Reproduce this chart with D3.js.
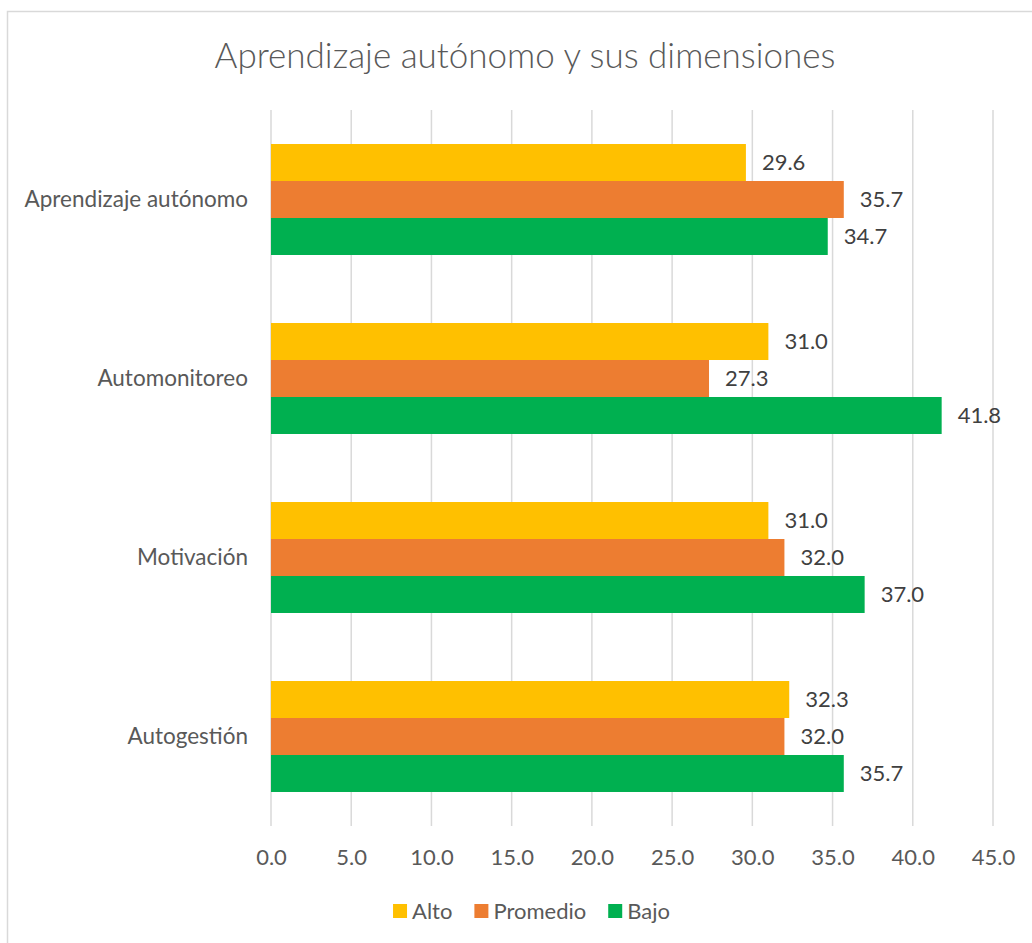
<!DOCTYPE html>
<html>
<head>
<meta charset="utf-8">
<script src="https://cdn.jsdelivr.net/npm/d3@7"></script>
<style>
  html, body { margin: 0; padding: 0; background: #fff; }
  svg { display: block; }
  text { font-family: Lato, "Open Sans", sans-serif; }
</style>
</head>
<body>
<svg id="chart" width="1032" height="943"></svg>
<script>
const title = "Aprendizaje autónomo y sus dimensiones";
const categories = ["Aprendizaje autónomo", "Automonitoreo", "Motivación", "Autogestión"];
const seriesNames = ["Alto", "Promedio", "Bajo"];
const alto = [29.6, 31.0, 31.0, 32.3];
const promedio = [35.7, 27.3, 32.0, 32.0];
const bajo = [34.7, 41.8, 37.0, 35.7];
const tickValues = [0, 5, 10, 15, 20, 25, 30, 35, 40, 45];
const colors = ["#FFC000", "#ED7D31", "#00B050"];

const seriesValues = [alto, promedio, bajo];
const rows = categories.map((c, i) => ({
  category: c,
  values: seriesNames.map((s, j) => ({ series: s, value: seriesValues[j][i], color: colors[j] }))
}));

const svg = d3.select("#chart");

// chart border
svg.append("rect")
  .attr("x", 7.5).attr("y", 11.5)
  .attr("width", 1100).attr("height", 1000)
  .attr("fill", "none").attr("stroke", "#D9D9D9").attr("stroke-width", 1.5);

// title
svg.append("text")
  .attr("x", 525).attr("y", 68)
  .attr("text-anchor", "middle")
  .attr("font-size", 35)
  .attr("font-weight", 300)
  .attr("fill", "#595959")
  .text(title);

const plotTop = 110, plotBottom = 826;
const x = d3.scaleLinear().domain([0, 45]).range([271, 993]);
const y = d3.scaleBand().domain(categories).range([plotTop, plotBottom]).padding(0);
const groupH = y.bandwidth() * 0.62;
const y1 = d3.scaleBand().domain(seriesNames)
  .range([(y.bandwidth() - groupH) / 2, (y.bandwidth() + groupH) / 2]).padding(0);

// gridlines
svg.append("g").selectAll("line").data(tickValues).join("line")
  .attr("x1", d => x(d)).attr("x2", d => x(d))
  .attr("y1", plotTop).attr("y2", plotBottom)
  .attr("stroke", "#D9D9D9").attr("stroke-width", 1.5);

// x tick labels
const xAxis = d3.axisBottom(x).tickValues(tickValues).tickFormat(d3.format(".1f")).tickSize(0).tickPadding(0);
const gx = svg.append("g").attr("transform", `translate(0, 857)`).call(xAxis);
gx.select(".domain").remove();
gx.selectAll("text")
  .attr("y", 0).attr("dy", "0.35em")
  .attr("font-size", 22).attr("fill", "#595959")
  .style("font-family", "Lato, 'Open Sans', sans-serif");

// y category labels
const yAxis = d3.axisLeft(y).tickSize(0).tickPadding(0);
const gy = svg.append("g").attr("transform", `translate(248, 0)`).call(yAxis);
gy.select(".domain").remove();
gy.selectAll("text")
  .attr("font-size", 22.5).attr("fill", "#595959")
  .style("font-family", "Lato, 'Open Sans', sans-serif");

// bars
const groups = svg.append("g").selectAll("g").data(rows).join("g")
  .attr("transform", d => `translate(0, ${y(d.category)})`);

groups.selectAll("rect").data(d => d.values).join("rect")
  .attr("x", x(0))
  .attr("y", d => y1(d.series))
  .attr("width", d => x(d.value) - x(0))
  .attr("height", y1.bandwidth())
  .attr("fill", d => d.color);

groups.selectAll("text.lbl").data(d => d.values).join("text")
  .attr("class", "lbl")
  .attr("x", d => x(d.value) + 16)
  .attr("y", d => y1(d.series) + y1.bandwidth() / 2)
  .attr("dy", "0.35em")
  .attr("font-size", 22)
  .attr("fill", "#404040")
  .text(d => d3.format(".1f")(d.value));

// legend
const legend = svg.append("g");
let cx = 0;
seriesNames.forEach((s, i) => {
  const g = legend.append("g");
  g.append("rect").attr("x", 0).attr("y", -7).attr("width", 14).attr("height", 14).attr("fill", colors[i]);
  const t = g.append("text").attr("x", 19).attr("y", 0).attr("dy", "0.35em")
    .attr("font-size", 22).attr("fill", "#595959").text(s);
  const w = 19 + t.node().getComputedTextLength();
  g.attr("transform", `translate(${cx}, 0)`);
  cx += w + 22;
});
const totalW = cx - 22;
legend.attr("transform", `translate(${531.5 - totalW / 2}, 911)`);
</script>
</body>
</html>
